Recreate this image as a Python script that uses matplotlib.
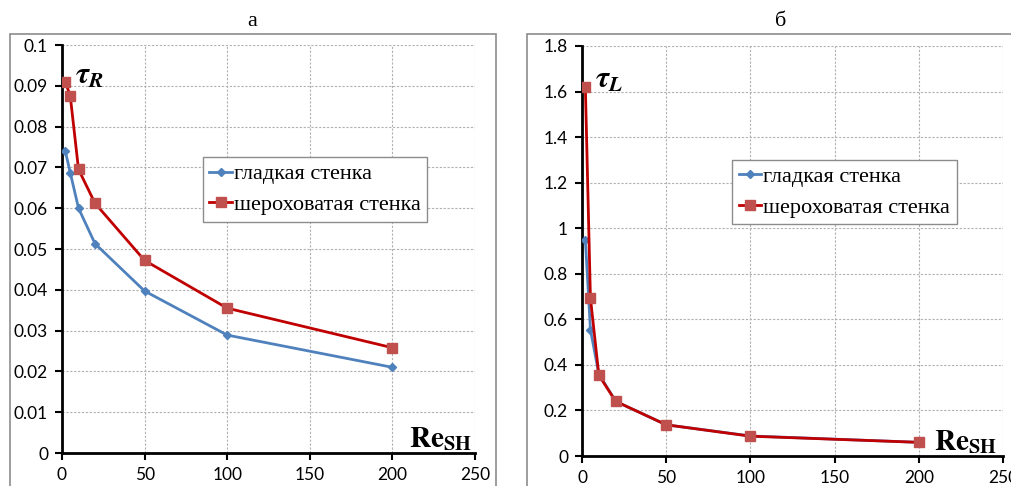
import matplotlib

matplotlib.use("Agg")

import matplotlib.pyplot as plt
from matplotlib.patches import Rectangle

plt.rcParams["font.family"] = ["Lato", "DejaVu Sans"]
plt.rcParams["mathtext.fontset"] = "stix"

re_sh = [2, 5, 10, 20, 50, 100, 200]

tau_r_smooth = [0.074, 0.0687, 0.060, 0.0513, 0.0397, 0.0289, 0.021]
tau_r_rough = [0.091, 0.0875, 0.0695, 0.0612, 0.0472, 0.0355, 0.0258]

tau_l_smooth = [0.95, 0.555, 0.36, 0.24, 0.137, 0.088, 0.06]
tau_l_rough = [1.62, 0.695, 0.355, 0.24, 0.137, 0.087, 0.06]

labels = ["гладкая стенка", "шероховатая стенка"]
blue = "#4f81bd"
red_line = "#c00000"
red_mark = "#c0504d"
serif = ["Liberation Serif", "DejaVu Serif"]

fig = plt.figure(figsize=(10.12, 4.86), dpi=100)

# panel frames
for x0, x1 in [(10, 496), (527, 1030)]:
    fig.patches.append(Rectangle((x0 / 1012, -0.1), (x1 - x0) / 1012, 1.1 - 34 / 486,
                                 transform=fig.transFigure, fill=False,
                                 edgecolor="#8c8c8c", linewidth=1.2))

fig.text(252 / 1012, 1 - 22 / 486, "а", family=serif, fontsize=16, ha="center", va="center")
fig.text(781 / 1012, 1 - 22 / 486, "б", family=serif, fontsize=16, ha="center", va="center")

ax1 = fig.add_axes([62 / 1012, 33 / 486, 413 / 1012, 408 / 486])
ax2 = fig.add_axes([582 / 1012, 30 / 486, 421 / 1012, 410 / 486])

panels = [
    (ax1, tau_r_smooth, tau_r_rough, 0.1, 0.01, r"$\mathbfit{\tau}_{\mathbfit{R}}$",
     (8, 0.0925), (0.341, 0.725), 0.993),
    (ax2, tau_l_smooth, tau_l_rough, 1.8, 0.2, r"$\mathbfit{\tau}_{\mathbfit{L}}$",
     (8, 1.65), (0.356, 0.722), 0.987),
]

for ax, smooth, rough, ymax, ystep, ylab, ylab_pos, leg_pos, re_x in panels:
    ax.plot(re_sh, smooth, color=blue, linewidth=2, marker="D", markersize=4.5,
            label=labels[0], zorder=3)
    ax.plot(re_sh, rough, color=red_line, linewidth=2, marker="s", markersize=7.5,
            markerfacecolor=red_mark, markeredgecolor=red_mark, label=labels[1], zorder=4)
    ax.set_xlim(0, 250)
    ax.set_ylim(0, ymax)
    ax.set_xticks(range(0, 251, 50))
    n = int(round(ymax / ystep))
    ax.set_yticks([round(i * ystep, 3) for i in range(n + 1)])
    ax.set_yticklabels(["0"] + [f"{i * ystep:g}" for i in range(1, n + 1)])
    ax.grid(True, color="#b0b0b0", linestyle=(0, (2, 1.5)), linewidth=0.8)
    ax.spines[["top", "right"]].set_visible(False)
    for s in ("left", "bottom"):
        ax.spines[s].set_linewidth(2)
        ax.spines[s].set_color("black")
    ax.tick_params(direction="out", length=5, width=1.5, labelsize=12.5, pad=5)
    ax.set_axisbelow(True)
    ax.text(*ylab_pos, ylab, fontsize=22, ha="left", va="center")
    ax.text(re_x, 0.0, r"$\mathbf{Re}_{\mathbf{SH}}$", transform=ax.transAxes,
            fontsize=21, ha="right", va="bottom")
    leg = ax.legend(loc="upper left", bbox_to_anchor=leg_pos, prop={"family": serif, "size": 16},
                    frameon=True, fancybox=False, edgecolor="#8c8c8c", framealpha=1,
                    handlelength=1.0, handletextpad=0.1, borderpad=0.3, labelspacing=0.45,
                    borderaxespad=0)
    leg.get_frame().set_linewidth(1)

fig.savefig("out.png", dpi=100)
